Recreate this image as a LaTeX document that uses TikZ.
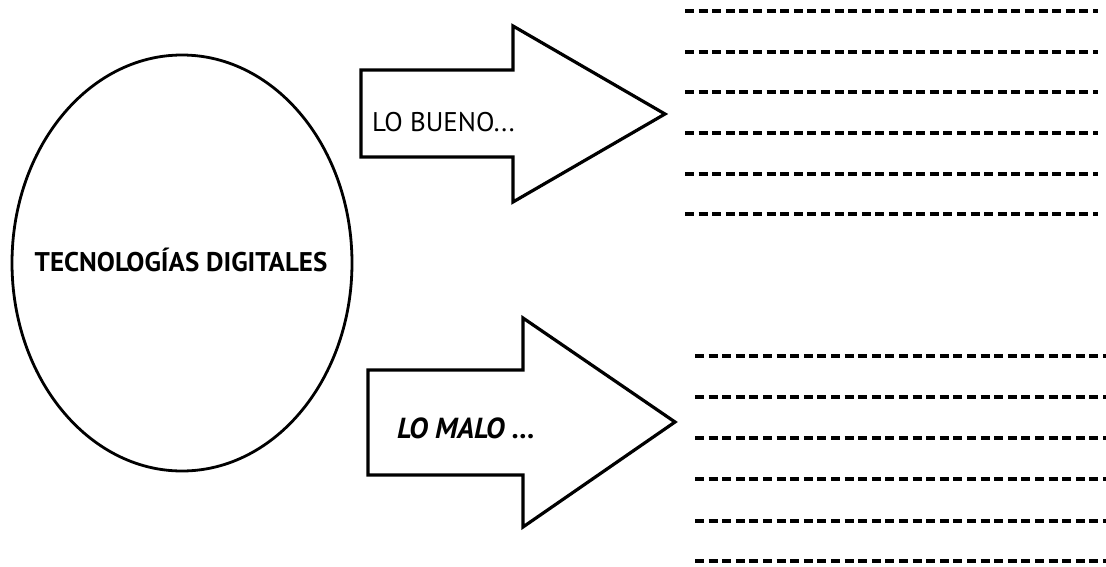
\documentclass[tikz,border=0pt]{standalone}
\usepackage{fontspec}
\setmainfont{PT Sans}
\usetikzlibrary{shapes.geometric}
\begin{document}
\begin{tikzpicture}[x=1pt,y=-1pt,
    flecha/.style={draw=black,line width=3.2pt,line join=miter,fill=white},
    renglon/.style={line width=3.2pt,dash pattern=on 9pt off 4.6pt},
    etiqueta/.style={anchor=west,inner sep=0pt,font=\fontsize{27}{29}\selectfont}]

      % Marco de la imagen
      \useasboundingbox (0,0) rectangle (1106,567);

      % Elipse central
      \node[draw,line width=2.8pt,ellipse,minimum width=340pt,minimum height=416pt,inner sep=0pt]
        (tec) at (182,263) {};
      \node[inner sep=0pt,font=\bfseries\fontsize{27}{29}\selectfont] (textec) at (181,260) {TECNOLOGÍAS DIGITALES};

      % Flecha de arriba
      \draw[flecha] (361,70) -- (513,70) -- (513,26) -- (665,114) -- (513,202) -- (513,157) -- (361,157) -- cycle;
      \node[etiqueta] (bueno) at (372,122) {LO BUENO...};

      % Flecha de abajo
      \draw[flecha] (368,370) -- (523,370) -- (523,318) -- (675,422) -- (523,527) -- (523,475) -- (368,475) -- cycle;
      \node[etiqueta,font=\bfseries\itshape\fontsize{29}{31}\selectfont] (malo) at (397,428) {LO MALO ...};

      % Renglones para escribir
      \foreach \y in {11,52,92,133,174,214} { % Grupo de arriba
        \draw[renglon] (685,\y) -- (1098,\y);
      }
      \foreach \y in {356,397,438,479,521,561} { % Grupo de abajo
        \draw[renglon] (695,\y) -- (1106,\y);
      }

    \end{tikzpicture}
\end{document}
